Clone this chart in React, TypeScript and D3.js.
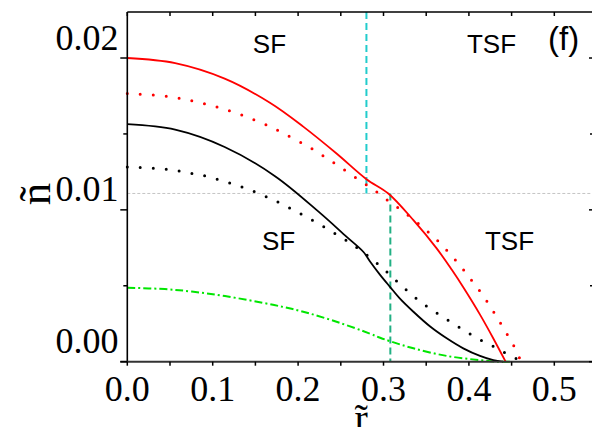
import React from "react";
import * as d3 from "d3";

type P = [number, number];

const redSolid: P[] = [[0,0.0200],[0.056,0.01966],[0.114,0.01864],[0.167,0.01705],[0.206,0.01548],[0.245,0.01371],[0.280,0.01202],[0.3056,0.01108],[0.335,0.00932],[0.362,0.00748],[0.38,0.00605],[0.3934,0.0049],[0.413,0.0031],[0.4286,0.00153],[0.443,0]];
const redDotted: P[] = [[0,0.01766],[0.046,0.01748],[0.077,0.01717],[0.107,0.01674],[0.138,0.01616],[0.168,0.01546],[0.183,0.01503],[0.214,0.0141],[0.243,0.01305],[0.273,0.01191],[0.289,0.0113],[0.3045,0.01064],[0.319,0.01005],[0.334,0.00941],[0.350,0.00866],[0.365,0.00788],[0.379,0.00703],[0.3915,0.00621],[0.403,0.00537],[0.415,0.00448],[0.425,0.00364],[0.4345,0.00277],[0.444,0.00188],[0.453,0.00100],[0.4596,0.0002],[0.461,0]];
const blackSolid: P[] = [[0,0.01564],[0.056,0.01528],[0.114,0.01414],[0.173,0.01222],[0.2256,0.0098],[0.2569,0.00822],[0.2763,0.00724],[0.284,0.00662],[0.296,0.00572],[0.3076,0.00493],[0.319,0.00417],[0.335,0.00329],[0.355,0.0023],[0.374,0.00154],[0.3934,0.00088],[0.413,0.00038],[0.4286,0.0001],[0.44,0]];
const blackDotted: P[] = [[0,0.01283],[0.045,0.01268],[0.0758,0.0124],[0.092,0.01222],[0.107,0.01198],[0.122,0.01174],[0.137,0.01145],[0.1527,0.01111],[0.168,0.01073],[0.183,0.01033],[0.198,0.00989],[0.213,0.00943],[0.228,0.00896],[0.243,0.00845],[0.259,0.00789],[0.274,0.0073],[0.289,0.00664],[0.3037,0.00592],[0.319,0.00512],[0.334,0.00437],[0.349,0.00371],[0.3646,0.00312],[0.38,0.00257],[0.3954,0.00202],[0.41,0.00154],[0.4255,0.0011],[0.44,0.00066],[0.455,0.00022],[0.46,0]];
const greenDashDot: P[] = [[0,0.00487],[0.044,0.00478],[0.0754,0.00462],[0.1144,0.00432],[0.172,0.00373],[0.206,0.00329],[0.245,0.00263],[0.284,0.00185],[0.296,0.00158],[0.3076,0.00135],[0.335,0.00088],[0.374,0.00038],[0.413,0.0001],[0.4326,0],[0.448,0]];

const xMajor = [0, 0.1, 0.2, 0.3, 0.4, 0.5];
const xMinor = [0.05, 0.15, 0.25, 0.35, 0.45];
const xLabels = ["0.0", "0.1", "0.2", "0.3", "0.4", "0.5"];
const yMajor = [0, 0.01, 0.02];
const yMinor = [0.005, 0.015];
const yLabels = ["0.00", "0.01", "0.02"];

const refLevel = 0.01108;
const cyanX = 0.28;
const tealX = 0.308;

const annotations = [
  { text: "SF", x: 0.147, y: 0.02031, size: 26 },
  { text: "TSF", x: 0.3977, y: 0.02031, size: 26 },
  { text: "(f)", x: 0.4926, y: 0.0205, size: 33 },
  { text: "SF", x: 0.1577, y: 0.00735, size: 26 },
  { text: "TSF", x: 0.4188, y: 0.00735, size: 26 },
];

export default function App() {
  const W = 592, H = 427;
  const x = d3.scaleLinear().domain([0, 0.5453]).range([127.3, 593]);
  const y = d3.scaleLinear().domain([0, 0.02303]).range([361.7, 12]);
  const line = d3.line<P>().x(d => x(d[0])).y(d => y(d[1])).curve(d3.curveCatmullRom.alpha(0.5));
  const serif = "'Liberation Serif', 'Times New Roman', serif";
  const sans = "'Liberation Sans', Arial, sans-serif";
  const [x0, x1] = x.range();
  const [y0, y1] = y.range();
  const allX = [...xMajor, ...xMinor];
  return (
    <svg width={W} height={H} style={{ position: "absolute", left: 0, top: 0, background: "#fff" }}>
      <rect width={W} height={H} fill="#fff" />
      <line x1={x0} x2={x1} y1={y(refLevel)} y2={y(refLevel)} stroke="#c4c4c4" strokeWidth={1} strokeDasharray="3,2" />
      <line x1={x(cyanX)} x2={x(cyanX)} y1={y1} y2={y(refLevel)} stroke="#22cccc" strokeWidth={2} strokeDasharray="7,4" />
      <line x1={x(tealX)} x2={x(tealX)} y1={y(refLevel)} y2={y0} stroke="#22b084" strokeWidth={2} strokeDasharray="7,4" />
      <path d={line(greenDashDot) || ""} fill="none" stroke="#00e600" strokeWidth={2} strokeDasharray="8,3,2,3" />
      <path d={line(blackDotted) || ""} fill="none" stroke="#000" strokeWidth={3} strokeLinecap="round" strokeDasharray="0,13" />
      <path d={line(redDotted) || ""} fill="none" stroke="#ff0000" strokeWidth={3} strokeLinecap="round" strokeDasharray="0,13" />
      <path d={line(blackSolid) || ""} fill="none" stroke="#000" strokeWidth={1.8} />
      <path d={line(redSolid) || ""} fill="none" stroke="#ff0000" strokeWidth={1.8} />
      <line x1={x0} x2={x0} y1={y0} y2={y1} stroke="#000" strokeWidth={1.6} />
      <line x1={x0} x2={x1} y1={y1} y2={y1} stroke="#000" strokeWidth={1.6} />
      <line x1={x0 - 7} x2={x1} y1={y0} y2={y0} stroke="#333" strokeWidth={2} />
      <line x1={x1} x2={x1} y1={y0} y2={y1} stroke="#000" strokeWidth={1.6} />
      {allX.map((v, i) => (
        <g key={"xt" + i}>
          <line x1={x(v)} x2={x(v)} y1={y0} y2={y0 + 4} stroke="#000" strokeWidth={1.5} />
          <line x1={x(v)} x2={x(v)} y1={y1} y2={y1 + 4} stroke="#000" strokeWidth={1.5} />
        </g>
      ))}
      {xMajor.map((v, i) => (
        <text key={"xl" + i} x={x(v)} y={401} textAnchor="middle" fontFamily={serif} fontSize={36} fill="#000">{xLabels[i]}</text>
      ))}
      {yMajor.map((v, i) => (
        <g key={"yt" + i}>
          <line x1={x0 - 7} x2={x0} y1={y(v)} y2={y(v)} stroke="#000" strokeWidth={1.5} />
          <line x1={x1 - 4} x2={x1} y1={y(v)} y2={y(v)} stroke="#000" strokeWidth={1.5} />
          <text x={118.5} y={y(v) - 8.5} textAnchor="end" fontFamily={serif} fontSize={36} fill="#000">{yLabels[i]}</text>
        </g>
      ))}
      {yMinor.map((v, i) => (
        <g key={"ym" + i}>
          <line x1={x0 - 4} x2={x0} y1={y(v)} y2={y(v)} stroke="#000" strokeWidth={1.5} />
          <line x1={x1 - 3} x2={x1} y1={y(v)} y2={y(v)} stroke="#000" strokeWidth={1.5} />
        </g>
      ))}
      <text transform="translate(50,194) rotate(-90)" textAnchor="middle" fontFamily={serif} fontSize={45} fill="#000">ñ</text>
      <text x={354.5} y={432} fontFamily={serif} fontSize={40} fill="#000">r<tspan dx="-0.333em">˜</tspan></text>
      {annotations.map((a, i) => (
        <text key={"an" + i} x={x(a.x)} y={y(a.y)} fontFamily={sans} fontSize={a.size} fill="#000">{a.text}</text>
      ))}
    </svg>
  );
}
